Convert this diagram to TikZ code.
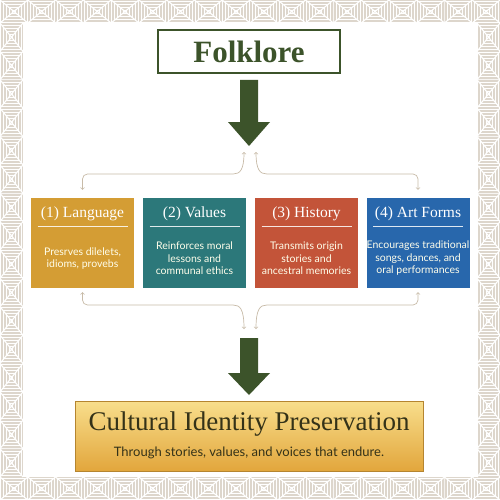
\documentclass[tikz,border=0pt]{standalone}
\usepackage{fontspec}
\setmainfont{Liberation Serif}
\newfontfamily\lato{Lato}
\usetikzlibrary{arrows,patterns}
\definecolor{Fg}{RGB}{60, 83, 42}
\definecolor{Fr}{RGB}{221, 214, 204}
\definecolor{Ln}{RGB}{200, 187, 168}
\definecolor{L}{RGB}{212, 157, 52}
\definecolor{V}{RGB}{44, 120, 122}
\definecolor{H}{RGB}{195, 84, 57}
\definecolor{A}{RGB}{40, 103, 172}
\definecolor{Gt}{RGB}{248, 222, 140}
\definecolor{Gb}{RGB}{226, 166, 60}
\definecolor{Ol}{RGB}{52, 50, 24}

\newcommand{\frametile}[4]{%
  \fill[pattern=horizontal lines, pattern color=white] (#1,#2) -- ({#1+#3},#2) -- ({#1+#3/2},{#2+#4/2}) -- cycle;
  \fill[pattern=horizontal lines, pattern color=white] (#1,{#2+#4}) -- ({#1+#3},{#2+#4}) -- ({#1+#3/2},{#2+#4/2}) -- cycle;
  \fill[pattern=vertical lines, pattern color=white] (#1,#2) -- (#1,{#2+#4}) -- ({#1+#3/2},{#2+#4/2}) -- cycle;
  \fill[pattern=vertical lines, pattern color=white] ({#1+#3},#2) -- ({#1+#3},{#2+#4}) -- ({#1+#3/2},{#2+#4/2}) -- cycle;
  \draw[white, line width=1.1] (#1,#2) -- ({#1+#3},{#2+#4}) (#1,{#2+#4}) -- ({#1+#3},#2);
}

\begin{document}
\begin{tikzpicture}[x=1pt, y=-1pt,
  card/.style={minimum width=103, minimum height=90, inner sep=0},
  cardtitle/.style={text=white, font=\fontsize{15.5}{18}\selectfont},
  cardtext/.style={text=white!92!yellow, align=center, font=\lato\fontsize{10.5}{12.5}\selectfont},
  link/.style={draw=Ln, line width=0.7, >=to, rounded corners=5}]
  \useasboundingbox (0,0) rectangle (500,500);

  % frame
  \fill[Fr] (0,0) rectangle (500,500);
  \foreach \k in {0,...,17} {
    \frametile{\k*27.778}{0}{27.778}{23}
    \frametile{\k*27.778}{477}{27.778}{23}
  }
  \foreach \k in {0,...,15} {
    \frametile{0}{23+\k*28.375}{23}{28.375}
    \frametile{477}{23+\k*28.375}{23}{28.375}
  }
  \fill[white] (23,23) rectangle (477,477);

  \node[draw=Fg, line width=1.6, fill=white, minimum width=182, minimum height=43,
        text=Fg, font=\fontsize{31}{31}\selectfont\bfseries] (folk) at (249,51.5) {Folklore};

  \fill[Fg] (240,80) -- (258,80) -- (258,122) -- (270,122) -- (249,146) -- (228,122) -- (240,122) -- cycle;

  \foreach \i/\x/\c/\t/\d in {
    1/82.5/L/{(1) Language}/{Presrves dilelets,\\idioms, provebs},
    2/194.5/V/{(2) Values}/{Reinforces moral\\lessons and\\communal ethics},
    3/306.5/H/{(3) History}/{Transmits origin\\stories and\\ancestral memories},
    4/418/A/{(4) Art Forms}/{Encourages traditional\\songs, dances, and\\oral performances}} {
    \node[card, fill=\c] (b\i) at (\x,243) {};
    \node[cardtitle] (t\i) at (\x,214) {\t};
    \draw[white, line width=0.6, opacity=0.85] (\x-45,226) -- (\x+45,226);
    \node[cardtext] (d\i) at (\x,258.5) {\d};
  }

  \coordinate (cl) at (244,152);
  \coordinate (cr) at (256,152);
  \coordinate (bl) at (244,329);
  \coordinate (br) at (256,329);

  \draw[link,<->] (cl) .. controls (244,170) and (240,174) .. (228,174) -| ([yshift=8pt]b1.north);
  \draw[link,<->] (cr) .. controls (256,170) and (260,174) .. (272,174) -| ([yshift=8pt]b4.north);
  \draw[link,<->] ([yshift=-4pt]b1.south) |- (228,305) .. controls (240,305) and (244,309) .. (bl);
  \draw[link,<->] ([yshift=-4pt]b4.south) |- (272,305) .. controls (260,305) and (256,309) .. (br);

  \fill[Fg] (240,338) -- (258,338) -- (258,373) -- (270,373) -- (249,395) -- (228,373) -- (240,373) -- cycle;

  \node[draw=Gb!80!black, line width=0.6, top color=Gt, bottom color=Gb,
        minimum width=348, minimum height=70] (cip) at (249,436) {};
  \node[text=Ol, font=\fontsize{27}{27}\selectfont] (ciptitle) at (249,424) {Cultural Identity Preservation};
  \node[text=Ol, font=\lato\fontsize{13}{13}\selectfont] (cipsub) at (249,453) {Through stories, values, and voices that endure.};
\end{tikzpicture}
\end{document}
